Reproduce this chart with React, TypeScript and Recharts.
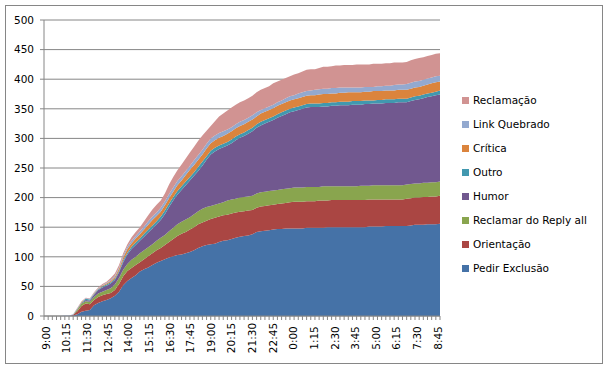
import React from "react";
import { AreaChart, Area, XAxis, YAxis, CartesianGrid } from "recharts";

const times = [
  "9:00","9:15","9:30","9:45","10:00","10:15","10:30","10:45","11:00","11:15",
  "11:30","11:45","12:00","12:15","12:30","12:45","13:00","13:15","13:30","13:45",
  "14:00","14:15","14:30","14:45","15:00","15:15","15:30","15:45","16:00","16:15",
  "16:30","16:45","17:00","17:15","17:30","17:45","18:00","18:15","18:30","18:45",
  "19:00","19:15","19:30","19:45","20:00","20:15","20:30","20:45","21:00","21:15",
  "21:30","21:45","22:00","22:15","22:30","22:45","23:00","23:15","23:30","23:45",
  "0:00","0:15","0:30","0:45","1:00","1:15","1:30","1:45","2:00","2:15",
  "2:30","2:45","3:00","3:15","3:30","3:45","4:00","4:15","4:30","4:45",
  "5:00","5:15","5:30","5:45","6:00","6:15","6:30","6:45","7:00","7:15",
  "7:30","7:45","8:00","8:15","8:30","8:45",
];

const pedirExclusao = [
  0,0,0,0,0,0,0,1,3,7, 9,10,18,22,25,27,30,34,41,52,
  59,64,69,75,79,82,86,90,93,96, 99,101,103,104,106,108,111,115,118,120,
  121,122,125,127,128,130,132,134,135,136, 138,142,143,144,145,146,147,147,148,148,
  148,148,148,149,149,149,149,149,150,150, 150,150,150,150,150,150,150,150,151,151,
  151,151,152,152,152,152,152,152,153,154, 154,154,155,155,155,156,
];
const orientacao = [
  0,0,0,0,0,0,0,1,5,10, 12,10,9,10,10,10,9,10,13,15,
  17,17,17,16,17,19,20,21,22,24, 26,29,32,35,36,38,39,40,40,41,
  43,44,43,43,43,43,43,42,42,42, 41,41,42,42,42,42,42,43,43,44,
  45,45,45,45,45,45,46,46,45,46, 46,46,46,46,46,46,46,46,46,46,
  46,46,45,45,45,45,45,46,46,46, 46,47,46,47,47,47,
];
const reclamarReply = [
  0,0,0,0,0,0,0,0,3,4, 4,4,5,6,6,7,8,9,10,11,
  12,14,14,15,15,15,15,16,17,17, 18,19,20,20,21,21,22,22,23,23,
  22,22,22,22,24,24,23,24,24,24, 24,24,24,24,24,24,24,24,24,24,
  24,24,24,24,24,24,23,24,24,23, 23,23,23,23,23,23,24,24,23,24,
  24,24,24,24,24,24,24,24,24,24, 24,24,24,24,24,24,
];
const humor = [
  0,0,0,0,0,0,0,0,1,1, 2,2,4,6,7,7,8,8,10,13,
  16,18,20,21,23,25,27,28,30,35, 41,46,50,54,58,62,65,68,73,80,
  87,90,92,93,93,95,99,101,103,106, 109,111,113,115,117,119,122,124,126,128,
  129,131,133,134,135,135,135,135,135,136, 136,137,137,137,138,138,137,138,138,138,
  138,138,139,139,139,140,140,139,140,141, 142,143,145,145,147,147,
];
const outro = [
  0,0,0,0,0,0,0,0,0,1, 2,2,1,1,2,2,2,2,2,3,
  3,4,4,4,5,5,5,5,6,6, 6,6,6,6,6,6,6,7,7,6,
  6,6,6,6,6,6,6,6,6,6, 6,6,6,6,6,6,6,6,6,6,
  6,6,6,6,6,6,6,6,6,6, 6,6,6,6,6,6,6,6,6,5,
  6,6,6,6,6,6,6,6,6,6, 6,6,6,6,6,7,
];
const critica = [
  0,0,0,0,0,0,0,0,0,1, 0,0,1,1,1,2,2,3,4,5,
  6,6,7,7,7,8,9,9,8,9, 9,9,10,10,11,12,12,12,12,13,
  13,13,13,13,14,14,14,14,14,14, 14,13,14,14,14,14,14,14,14,14,
  14,14,14,14,14,14,15,15,15,15, 15,15,15,16,15,15,15,15,15,16,
  15,15,15,15,15,15,15,15,15,15, 15,15,15,16,16,15,
];
const linkQuebrado = [
  0,0,0,0,0,1,1,1,1,0, 1,1,1,1,1,1,2,2,2,3,
  4,4,4,5,5,6,6,6,7,7, 7,7,7,7,7,7,8,8,8,8,
  8,8,8,8,7,7,7,7,7,7, 7,7,6,6,6,6,6,6,7,7,
  7,8,8,8,8,9,9,9,9,9, 9,9,9,8,8,8,8,8,8,7,
  8,8,8,8,9,9,9,10,10,10, 10,10,10,10,10,10,
];
const reclamacao = [
  0,0,0,0,0,0,0,0,1,1, 1,1,1,1,2,2,3,4,4,4,
  4,6,7,7,9,10,12,13,12,13, 16,18,18,20,21,22,23,24,24,22,
  21,24,28,30,32,33,33,33,33,33, 33,34,34,34,34,36,35,35,34,34,
  35,34,35,36,36,35,36,37,37,37, 38,37,38,38,38,39,39,38,38,39,
  38,38,38,38,38,37,37,37,38,38, 39,38,38,38,38,38,
];

const yTicks = [0, 50, 100, 150, 200, 250, 300, 350, 400, 450, 500];

const seriesDefs = [
  { key: "pedir", name: "Pedir Exclusão", color: "#4572A7", values: pedirExclusao },
  { key: "orient", name: "Orientação", color: "#AA4643", values: orientacao },
  { key: "reply", name: "Reclamar do Reply all", color: "#89A54E", values: reclamarReply },
  { key: "humor", name: "Humor", color: "#71588F", values: humor },
  { key: "outro", name: "Outro", color: "#4198AF", values: outro },
  { key: "critica", name: "Crítica", color: "#DB843D", values: critica },
  { key: "link", name: "Link Quebrado", color: "#93A9CF", values: linkQuebrado },
  { key: "recl", name: "Reclamação", color: "#D19392", values: reclamacao },
];

const data = times.map((t, i) => {
  const row: Record<string, number | string> = { t };
  seriesDefs.forEach((s) => {
    row[s.key] = s.values[i];
  });
  return row;
});

const FONT = "DejaVu Sans";
const GRAY = "#868686";

const XTick = (props: any) => {
  const { x, y, payload } = props;
  const idx = props.index ?? payload?.index ?? 0;
  if (idx % 5 !== 0) return null;
  const n = times.length;
  // labels sit centred in their category band, as in the source chart
  const lx = x + 2.06 - (4.12 * idx) / (n - 1);
  const ly = y + 16;
  return (
    <text
      x={lx}
      y={ly}
      transform={`rotate(-90, ${lx}, ${ly})`}
      textAnchor="middle"
      dy={3.8}
      fontFamily={FONT}
      fontSize={10.5}
      fill="#000"
    >
      {payload.value}
    </text>
  );
};

const LegendBox = () => {
  const items = [...seriesDefs].reverse();
  return (
    <div
      style={{
        position: "absolute",
        left: 462,
        top: 88,
        fontFamily: FONT,
        fontSize: 10.5,
        color: "#000",
      }}
    >
      {items.map((s) => (
        <div
          key={s.key}
          style={{ height: 24, display: "flex", alignItems: "center", whiteSpace: "nowrap" }}
        >
          <span
            style={{
              display: "inline-block",
              width: 7,
              height: 7,
              background: s.color,
              marginRight: 4,
            }}
          />
          <span>{s.name}</span>
        </div>
      ))}
    </div>
  );
};

export default function App() {
  return (
    <div style={{ position: "absolute", left: 0, top: 0, width: 608, height: 371, background: "#fff" }}>
      <div
        style={{
          position: "absolute",
          left: 5,
          top: 5,
          width: 596,
          height: 357,
          border: `1px solid ${GRAY}`,
          pointerEvents: "none",
        }}
      />
      <AreaChart
        width={608}
        height={371}
        data={data}
        margin={{ top: 20, right: 168, bottom: 5, left: 4 }}
      >
        <CartesianGrid vertical={false} stroke={GRAY} strokeWidth={1} />
        <XAxis
          dataKey="t"
          interval={0}
          height={50}
          tick={<XTick />}
          tickSize={4}
          tickLine={{ stroke: GRAY }}
          axisLine={{ stroke: GRAY }}
        />
        <YAxis
          width={40}
          domain={[0, 500]}
          ticks={yTicks}
          interval={0}
          tickSize={4}
          tickMargin={6}
          tickLine={{ stroke: GRAY }}
          axisLine={{ stroke: GRAY }}
          tick={{ fontFamily: FONT, fontSize: 10.5, fill: "#000" }}
        />
        {seriesDefs.map((s) => (
          <Area
            key={s.key}
            type="linear"
            dataKey={s.key}
            name={s.name}
            stackId="1"
            stroke="none"
            fill={s.color}
            fillOpacity={1}
            dot={false}
            activeDot={false}
            isAnimationActive={false}
          />
        ))}
      </AreaChart>
      <LegendBox />
    </div>
  );
}
